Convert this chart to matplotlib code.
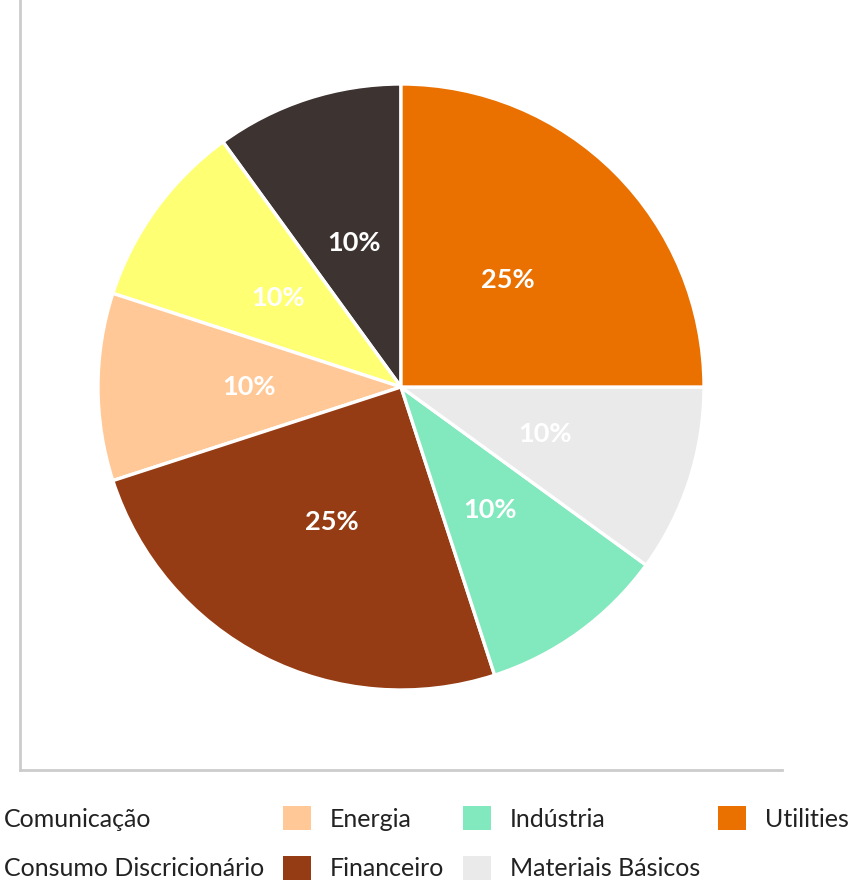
import matplotlib
matplotlib.use("Agg")
import matplotlib.pyplot as plt
from matplotlib.patches import Patch

plt.rcParams["font.family"] = ["Lato", "DejaVu Sans"]

# sectors in alphabetical order (drawn counter-clockwise from 12 o'clock)
sectors = [
    "Comunicação",
    "Consumo Discricionário",
    "Energia",
    "Financeiro",
    "Indústria",
    "Materiais Básicos",
    "Utilities",
]
weights = [10, 10, 10, 25, 10, 10, 25]
colors = ["#3D3331", "#FFFF73", "#FFC896", "#963C14", "#82E8BE", "#EAEAEA", "#EA7000"]

W, H, DPI = 864, 882, 100
fig = plt.figure(figsize=(W / DPI, H / DPI), dpi=DPI)

# axes box in pixels: x 20..782, y 0..770 (from top)
ax_l, ax_r, ax_t, ax_b = 20, 782, 0, 770
ax = fig.add_axes([ax_l / W, 1 - ax_b / H, (ax_r - ax_l) / W, (ax_b - ax_t) / H])

wedges, texts, autotexts = ax.pie(
    weights,
    colors=colors,
    startangle=90,
    autopct="%1.0f%%",
    pctdistance=0.5,
    frame=True,
    wedgeprops=dict(edgecolor="white", linewidth=2.4),
    textprops=dict(color="white", fontsize=19.5, fontweight="bold"),
)

radius_px = 303
shift = 2 / radius_px
ax.set_aspect("auto")
ax.set_xlim(-(ax_r - ax_l) / 2 / radius_px, (ax_r - ax_l) / 2 / radius_px)
ax.set_ylim(-(ax_b - ax_t) / 2 / radius_px + shift, (ax_b - ax_t) / 2 / radius_px + shift)
ax.set_xticks([])
ax.set_yticks([])
for side in ["top", "right"]:
    ax.spines[side].set_visible(False)
for side in ["left", "bottom"]:
    ax.spines[side].set_color("#CCCCCC")
    ax.spines[side].set_linewidth(2)

handles = [Patch(facecolor=c, edgecolor="none") for c in colors]
fs = 18
leg = fig.legend(
    handles,
    sectors,
    ncol=4,
    loc="upper left",
    bbox_to_anchor=(-43 / W, 1 - 806 / H),
    frameon=False,
    fontsize=fs,
    borderpad=0,
    borderaxespad=0,
    handlelength=1.12,
    handleheight=1.12,
    handletextpad=0.76,
    columnspacing=0.74,
    labelspacing=1.0,
)
for t in leg.get_texts():
    t.set_color("#222222")

fig.savefig("out.png", dpi=DPI)
